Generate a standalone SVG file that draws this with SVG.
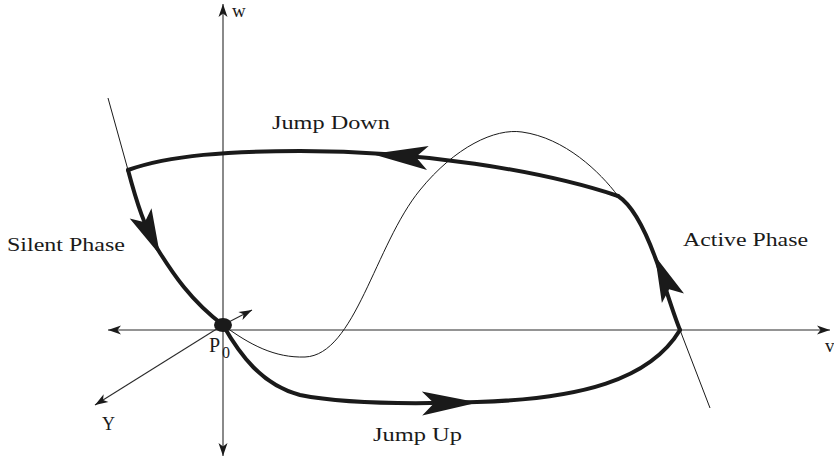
<svg xmlns="http://www.w3.org/2000/svg" xmlns:xlink="http://www.w3.org/1999/xlink" width="834" height="460" viewBox="0 0 834 460">
<style>
.axis{fill:none;stroke:#2a2a2a;stroke-width:1.1}
.thin{fill:none;stroke:#1a1a1a;stroke-width:1}
.thick{fill:none;stroke:#1a1a1a;stroke-width:4;stroke-linejoin:round;stroke-linecap:round}
.lbl{font-family:"Liberation Serif","Times New Roman",serif;font-size:19px;fill:#1a1a1a}
.head{fill:#1a1a1a}
</style>
<defs>
<marker id="ax" markerUnits="userSpaceOnUse" markerWidth="16" markerHeight="12" viewBox="-14 -6 16 12" refX="0" refY="0" orient="auto-start-reverse">
<path d="M0,0 L-13,-4.5 L-9.5,0 L-13,4.5 Z" fill="#1a1a1a"/>
</marker>
<path id="bighead" d="M0,0 L-56,-12 L-44,0 L-56,12 Z"/>
</defs>
<g id="axes">
<line class="axis" x1="223" y1="456" x2="223" y2="4" marker-start="url(#ax)" marker-end="url(#ax)"/>
<line class="axis" x1="108" y1="330" x2="830" y2="330" marker-start="url(#ax)" marker-end="url(#ax)"/>
<line class="axis" x1="223" y1="325" x2="95" y2="405" marker-end="url(#ax)"/>
<line class="axis" x1="223" y1="325" x2="252" y2="310" marker-end="url(#ax)"/>
</g>
<g id="connectors">
<path id="nullcline" class="thin" d="M223,325 C250,345 275,358 305,357 C355,355 375,245 420,190 C455,147 495,128 522,132 C565,138 600,172 618,196"/>
<line class="thin" x1="108" y1="98" x2="128" y2="170"/>
<line class="thin" x1="680" y1="330" x2="710" y2="408"/>
<path id="jump-down" class="thick" d="M128,170 C170,155 230,151 300,151 C420,151 540,170 618,196"/>
<path id="silent-phase" class="thick" d="M128,170 C136,200 145,230 160,253 C172,272 190,300 223,325"/>
<path id="jump-up" class="thick" d="M223,325 C240,355 262,385 300,395 C350,405 420,404 477,402 C580,399 650,380 680,330"/>
<path id="active-phase" class="thick" d="M680,330 C670,305 662,275 655,257 C645,230 632,205 618,196"/>
<use xlink:href="#bighead" class="head" transform="translate(372,154) rotate(184)"/>
<use xlink:href="#bighead" class="head" transform="translate(160,255) rotate(65) scale(0.82,1)"/>
<use xlink:href="#bighead" class="head" transform="translate(478,402.5) rotate(-1)"/>
<use xlink:href="#bighead" class="head" transform="translate(655,256) rotate(-113) scale(0.82,1)"/>
</g>
<g id="P0">
<ellipse cx="223" cy="325" rx="9" ry="7" fill="#1a1a1a"/>
<text class="lbl" x="209" y="352" style="font-size:20px">P</text>
<text class="lbl" x="222" y="358" style="font-size:16px">0</text>
</g>
<g id="labels">
<text class="lbl" x="232" y="17">w</text>
<text class="lbl" x="825" y="352">v</text>
<text class="lbl" x="102" y="430" style="font-size:18px">Y</text>
<text class="lbl" x="272" y="129" textLength="118" lengthAdjust="spacingAndGlyphs">Jump Down</text>
<text class="lbl" x="7" y="251" textLength="118" lengthAdjust="spacingAndGlyphs">Silent Phase</text>
<text class="lbl" x="683" y="246" textLength="125" lengthAdjust="spacingAndGlyphs">Active Phase</text>
<text class="lbl" x="373" y="441" textLength="89" lengthAdjust="spacingAndGlyphs">Jump Up</text>
</g>
</svg>
